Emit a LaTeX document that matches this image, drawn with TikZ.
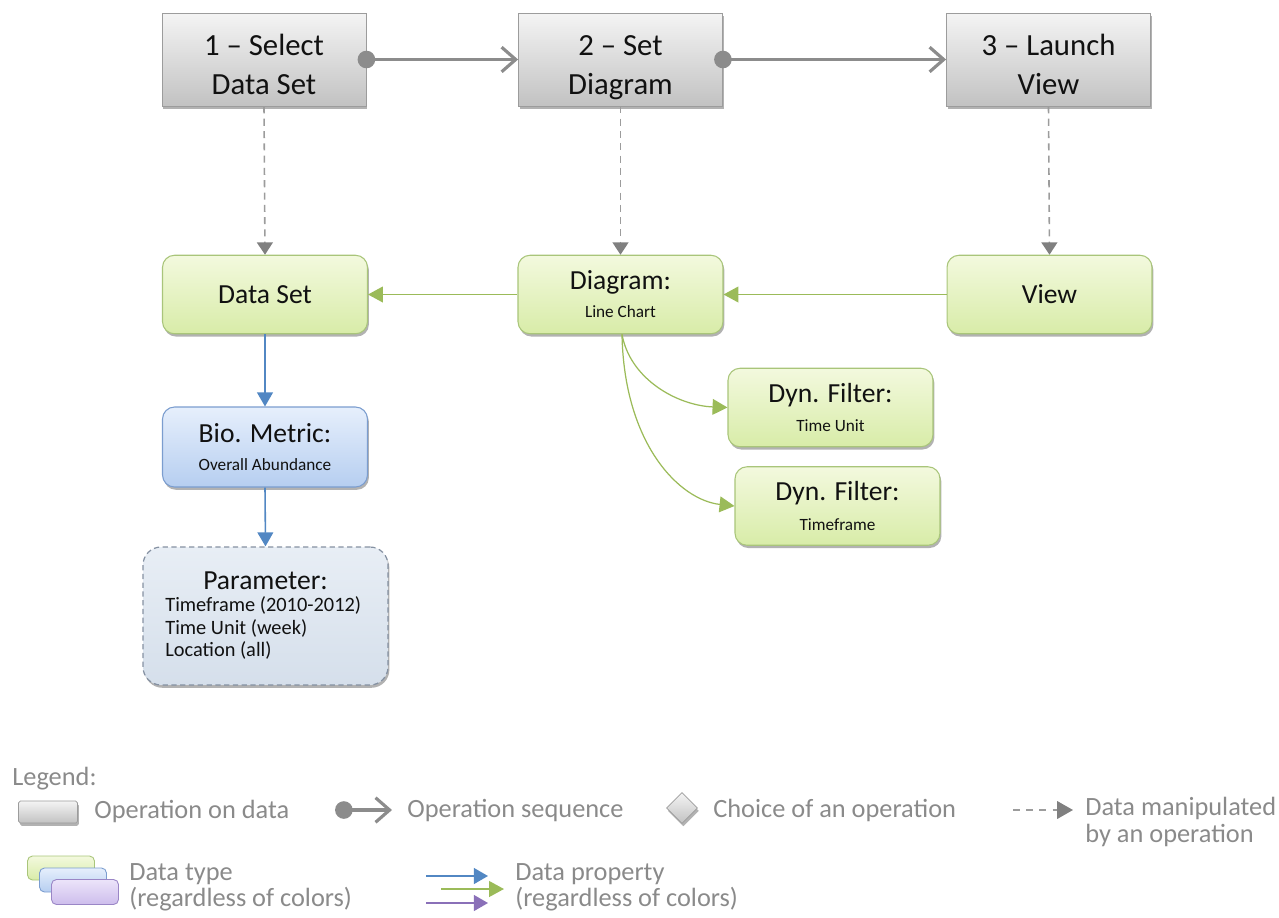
\documentclass[tikz,border=0pt]{standalone}
\usepackage{fontspec}
\setmainfont{Carlito}
\usetikzlibrary{arrows.meta,shapes.geometric,shadows}

\definecolor{opT}{HTML}{F4F4F4}
\definecolor{opB}{HTML}{C2C2C2}
\definecolor{opD}{HTML}{9C9C9C}
\definecolor{grT}{HTML}{F3F9DE}
\definecolor{grB}{HTML}{D8ECA8}
\definecolor{grD}{HTML}{A9C57A}
\definecolor{blT}{HTML}{E6EFFC}
\definecolor{blB}{HTML}{B6CEF0}
\definecolor{blD}{HTML}{7B9DCF}
\definecolor{paT}{HTML}{E8EEF5}
\definecolor{paB}{HTML}{D5DFEB}
\definecolor{paD}{HTML}{8591A2}
\definecolor{puT}{HTML}{ECE4FA}
\definecolor{puB}{HTML}{CDBDEC}
\definecolor{puD}{HTML}{9A86C6}
\definecolor{seqC}{HTML}{8C8C8C}
\definecolor{dashC}{HTML}{9C9C9C}
\definecolor{tipC}{HTML}{808080}
\definecolor{arrG}{HTML}{9BBB59}
\definecolor{arrB}{HTML}{5287C3}
\definecolor{arrP}{HTML}{8A70B8}
\definecolor{txt}{HTML}{111111}
\definecolor{lgtxt}{HTML}{8A8A8A}

\newcommand{\fbig}{\fontsize{17.5}{22}\selectfont}
\newcommand{\fmid}{\fontsize{15.7}{17}\selectfont}
\newcommand{\fsmall}{\fontsize{9.8}{12}\selectfont}
\newcommand{\fpar}{\fontsize{11.6}{13}\selectfont}
\newcommand{\flg}{\fontsize{15}{15}\selectfont}
% extra room above the first line of an operation box
\newcommand{\opstrut}{\rule{0pt}{24pt}}

\tikzset{
  shade/.style={drop shadow={shadow xshift=0.8pt,shadow yshift=-1.6pt,opacity=0.3,fill=black}},
  opbox/.style={rectangle, minimum width=4.08cm, minimum height=1.86cm, inner sep=0pt,
    top color=opT, bottom color=opB, draw=opD, line width=0.5pt, shade,
    align=center, text=txt, font=\fbig},
  greenbox/.style={rectangle, rounded corners=0.24cm, minimum width=4.1cm, minimum height=1.57cm,
    inner sep=0pt, top color=grT, bottom color=grB, draw=grD, line width=0.6pt, shade,
    align=center, text=txt, font=\fmid},
  bluebox/.style={greenbox, top color=blT, bottom color=blB, draw=blD},
  parambox/.style={rectangle, rounded corners=0.36cm, minimum width=4.9cm, minimum height=2.76cm,
    inner sep=0pt, top color=paT, bottom color=paB, draw=paD, line width=0.7pt,
    dash pattern=on 3pt off 2pt, shade},
  seqarrow/.style={draw=seqC, line width=2.2pt, shorten <=-5pt,
    {Circle[length=10pt,fill=seqC]}-{Straight Barb[length=8pt,width=14pt,line width=1.8pt]}},
  manip/.style={draw=dashC, line width=0.9pt, dash pattern=on 4pt off 3pt,
    -{Triangle[length=7pt,width=9pt,fill=tipC,color=tipC,sep=0pt]}},
  propG/.style={draw=arrG, line width=0.9pt, -{Triangle[length=8.5pt,width=9pt]}},
  propB/.style={draw=arrB, line width=0.9pt, -{Triangle[length=8pt,width=9pt]}},
  propP/.style={draw=arrP, line width=0.9pt, -{Triangle[length=8pt,width=9pt]}},
  lgtext/.style={anchor=west, text=lgtxt, font=\flg, inner sep=0pt, align=left},
}

\begin{document}
\begin{tikzpicture}[x=0.02cm,y=-0.02cm]
\useasboundingbox (0,0) rectangle (1279,917);

% operations
\node[opbox] (op1) at (264,59.5) {\opstrut 1 -- Select\\Data Set\strut};
\node[opbox] (op2) at (620.5,59.5) {\opstrut 2 -- Set\\Diagram\strut};
\node[opbox] (op3) at (1048.5,59.5) {\opstrut 3 -- Launch\\View\strut};

% data types
\node[greenbox] (ds) at (265,294.5) {Data Set};
\node[greenbox] (diag) at (620.5,294.5) {Diagram:\\[-1pt]{\fsmall Line Chart}};
\node[greenbox] (view) at (1049.5,294.5) {View};
\node[bluebox, minimum height=1.6cm] (bio) at (265,447) {Bio. Metric:\\[-1pt]{\fsmall Overall Abundance}};
\node[greenbox] (tu) at (830.5,407.5) {Dyn. Filter:\\[0pt]{\fsmall Time Unit}};
\node[greenbox] (tf) at (837.5,506) {Dyn. Filter:\\[0pt]{\fsmall Timeframe}};

% parameter box
\node[parambox] (par) at (265.5,616) {};
\node[text=txt, font=\fmid, inner sep=0pt] (partitle) at (265.5,581) {Parameter:};
\node[text=txt, font=\fpar, anchor=north west, align=left, inner sep=0pt] (parlist) at (165,596)
  {Timeframe (2010-2012)\\Time Unit (week)\\Location (all)};

% operation sequence
\draw[seqarrow] (op1.east) -- (op2.west);
\draw[seqarrow] (op2.east) -- (op3.west);

% data manipulated by operations
\draw[manip] (op1.south) -- (ds.north);
\draw[manip] (op2.south) -- (diag.north);
\draw[manip] (op3.south) -- (view.north);

% data properties
\draw[propG] (diag.west) -- (ds.east);
\draw[propG] (view.west) -- (diag.east);
\draw[propB] (ds.south) -- (bio.north);
\draw[propB] (bio.south) -- (par.north);
\draw[propG, line width=0.7pt] ([xshift=0.03cm]diag.south) .. controls +(8,45) and +(-50,-2) .. (tu.west);
\draw[propG, line width=0.7pt] ([xshift=0.03cm]diag.south) .. controls +(2,110) and +(-55,-6) .. (tf.west);

% legend
\node[lgtext] (lgtitle) at (12,779) {Legend:};

\node[rectangle, minimum width=1.18cm, minimum height=0.44cm, inner sep=0pt,
  top color=opT, bottom color=opB, draw=opD, line width=0.4pt, rounded corners=1pt, shade] (lgop) at (48,812) {};
\node[lgtext] (lgoptxt) at (94,811) {Operation on data};

\coordinate (lgs1) at (343,810);
\coordinate (lgs2) at (392,810);
\draw[seqarrow, line width=2pt, shorten <=-4.5pt] (lgs1) -- (lgs2);
\node[lgtext] (lgseqtxt) at (407,811) {Operation sequence};

\node[diamond, minimum width=0.62cm, minimum height=0.62cm, inner sep=0pt,
  top color=opT, bottom color=opB, draw=opD, line width=0.4pt, shade] (lgdia) at (682,808) {};
\node[lgtext] (lgdiatxt) at (713,810) {Choice of an operation};

\coordinate (lgd1) at (1013,810);
\coordinate (lgd2) at (1073,810);
\draw[manip, line width=0.9pt, dash pattern=on 4pt off 3.5pt,
  -{Triangle[length=9pt,width=10pt,fill=tipC,color=tipC]}] (lgd1) -- (lgd2);
\node[lgtext] (lgdtxt) at (1085,822) {Data manipulated\\by an operation};

\node[rectangle, rounded corners=0.1cm, minimum width=1.34cm, minimum height=0.48cm, inner sep=0pt,
  top color=grT, bottom color=grB, draw=grD, line width=0.5pt] (lgg) at (61,868) {};
\node[rectangle, rounded corners=0.1cm, minimum width=1.34cm, minimum height=0.48cm, inner sep=0pt,
  top color=blT, bottom color=blB, draw=blD, line width=0.5pt] (lgb) at (73,880) {};
\node[rectangle, rounded corners=0.1cm, minimum width=1.34cm, minimum height=0.5cm, inner sep=0pt,
  top color=puT, bottom color=puB, draw=puD, line width=0.5pt] (lgp) at (85,892) {};
\node[lgtext] (lgtypetxt) at (129,887) {Data type\\(regardless of colors)};

\coordinate (lpb1) at (426,876);
\coordinate (lpb2) at (488,876);
\coordinate (lpg1) at (441,889);
\coordinate (lpg2) at (504,889);
\coordinate (lpp1) at (426,903);
\coordinate (lpp2) at (488,903);
\draw[propB] (lpb1) -- (lpb2);
\draw[propG] (lpg1) -- (lpg2);
\draw[propP] (lpp1) -- (lpp2);
\node[lgtext] (lgproptxt) at (515,887) {Data property\\(regardless of colors)};
\end{tikzpicture}
\end{document}
